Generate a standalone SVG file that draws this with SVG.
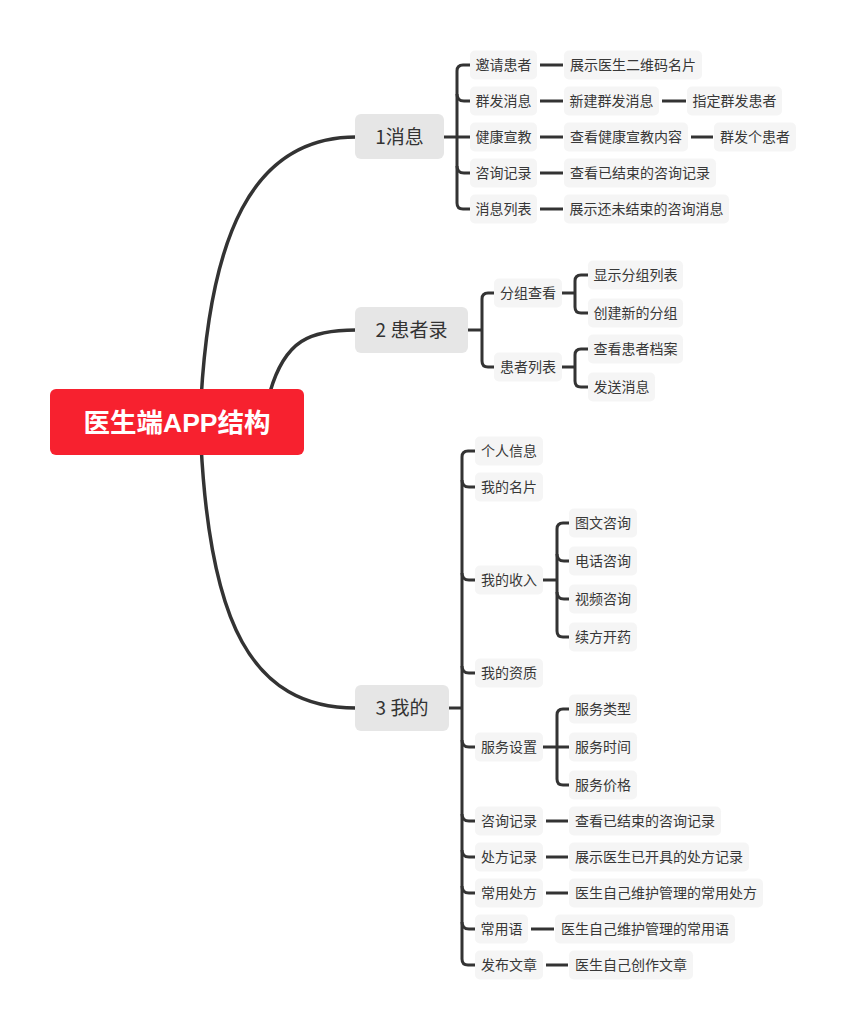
<svg xmlns="http://www.w3.org/2000/svg" width="846" height="1030" viewBox="0 0 846 1030">
<style>
.bg{fill:#ffffff}
.ln{fill:none;stroke:#333333;stroke-width:3;stroke-linecap:butt}
.main{fill:none;stroke:#333333;stroke-width:3.5}
.rootbox{fill:#f7212f}
.roott{font-family:"Liberation Sans","Noto Sans CJK SC",sans-serif;font-size:26.5px;font-weight:bold;fill:#ffffff;text-anchor:middle}
.mbox{fill:#e6e6e6}
.mt{font-family:"Noto Sans CJK SC",sans-serif;font-size:19px;fill:#333333;text-anchor:middle}
.box{fill:#f5f5f5}
.t{font-family:"Noto Sans CJK SC",sans-serif;font-size:14px;fill:#383838;text-anchor:middle}
</style>
<rect class="bg" x="0" y="0" width="846" height="1030"/>
<g id="connectors">
<path class="main" d="M 201 400 C 210 240, 250 137, 356 137"/>
<path class="main" d="M 270 392 C 285 340, 310 330, 356 330"/>
<path class="main" d="M 201 444 C 210 620, 250 708, 356 708"/>
<path class="ln" d="M 444 137 H 457"/>
<path class="ln" d="M 470 65 H 463 Q 457 65 457 71 V 203 Q 457 209 463 209 H 470"/>
<path class="ln" d="M 457 94 Q 457 101 464 101 H 470"/>
<path class="ln" d="M 457 137 H 470"/>
<path class="ln" d="M 457 166 Q 457 173 464 173 H 470"/>
<path class="ln" d="M 540 65 H 563"/>
<path class="ln" d="M 540 101 H 563"/>
<path class="ln" d="M 662 101 H 686"/>
<path class="ln" d="M 540 137 H 563"/>
<path class="ln" d="M 691 137 H 713"/>
<path class="ln" d="M 540 173 H 563"/>
<path class="ln" d="M 540 209 H 563"/>
<path class="ln" d="M 468 330 H 482"/>
<path class="ln" d="M 494 293 H 488 Q 482 293 482 299 V 361 Q 482 367 488 367 H 494"/>
<path class="ln" d="M 562 293 H 575"/>
<path class="ln" d="M 588 275 H 581 Q 575 275 575 281 V 307 Q 575 313 581 313 H 588"/>
<path class="ln" d="M 562 367 H 575"/>
<path class="ln" d="M 588 349 H 581 Q 575 349 575 355 V 381 Q 575 387 581 387 H 588"/>
<path class="ln" d="M 449 708 H 462"/>
<path class="ln" d="M 475 451 H 468 Q 462 451 462 457 V 959 Q 462 965 468 965 H 475"/>
<path class="ln" d="M 462 480 Q 462 487 469 487 H 475"/>
<path class="ln" d="M 462 573 Q 462 580 469 580 H 475"/>
<path class="ln" d="M 462 666 Q 462 673 469 673 H 475"/>
<path class="ln" d="M 462 740 Q 462 747 469 747 H 475"/>
<path class="ln" d="M 462 814 Q 462 821 469 821 H 475"/>
<path class="ln" d="M 462 850 Q 462 857 469 857 H 475"/>
<path class="ln" d="M 462 886 Q 462 893 469 893 H 475"/>
<path class="ln" d="M 462 922 Q 462 929 469 929 H 475"/>
<path class="ln" d="M 543 580 H 557"/>
<path class="ln" d="M 569 523 H 563 Q 557 523 557 529 V 631 Q 557 637 563 637 H 569"/>
<path class="ln" d="M 557 554 Q 557 561 564 561 H 569"/>
<path class="ln" d="M 557 592 Q 557 599 564 599 H 569"/>
<path class="ln" d="M 543 747 H 557"/>
<path class="ln" d="M 569 709 H 563 Q 557 709 557 715 V 779 Q 557 785 563 785 H 569"/>
<path class="ln" d="M 557 747 H 569"/>
<path class="ln" d="M 546 821 H 568"/>
<path class="ln" d="M 546 857 H 568"/>
<path class="ln" d="M 546 893 H 568"/>
<path class="ln" d="M 531 929 H 554"/>
<path class="ln" d="M 546 965 H 568"/>
</g>
<g id="root">
<rect class="rootbox" x="50" y="389" width="254" height="66" rx="6"/>
<text class="roott" x="177" y="432">医生端APP结构</text>
</g>
<g id="n1">
<rect class="mbox" x="355" y="114" width="89" height="45" rx="6"/>
<text class="mt" x="399.5" y="144">1消息</text>
</g>
<g id="n1-1"><rect class="box" x="470" y="50.5" width="67" height="29" rx="5"/><text class="t" x="503.5" y="70">邀请患者</text></g>
<g id="n1-2"><rect class="box" x="470" y="86.5" width="67" height="29" rx="5"/><text class="t" x="503.5" y="106">群发消息</text></g>
<g id="n1-3"><rect class="box" x="470" y="122.5" width="67" height="29" rx="5"/><text class="t" x="503.5" y="142">健康宣教</text></g>
<g id="n1-4"><rect class="box" x="470" y="158.5" width="67" height="29" rx="5"/><text class="t" x="503.5" y="178">咨询记录</text></g>
<g id="n1-5"><rect class="box" x="470" y="194.5" width="67" height="29" rx="5"/><text class="t" x="503.5" y="214">消息列表</text></g>
<g id="n1-1-1"><rect class="box" x="564" y="50.5" width="138" height="29" rx="5"/><text class="t" x="633" y="70">展示医生二维码名片</text></g>
<g id="n1-2-1"><rect class="box" x="564" y="86.5" width="95" height="29" rx="5"/><text class="t" x="611.5" y="106">新建群发消息</text></g>
<g id="n1-2-1-1"><rect class="box" x="687" y="86.5" width="95" height="29" rx="5"/><text class="t" x="734.5" y="106">指定群发患者</text></g>
<g id="n1-3-1"><rect class="box" x="564" y="122.5" width="124" height="29" rx="5"/><text class="t" x="626" y="142">查看健康宣教内容</text></g>
<g id="n1-3-1-1"><rect class="box" x="714" y="122.5" width="82" height="29" rx="5"/><text class="t" x="755" y="142">群发个患者</text></g>
<g id="n1-4-1"><rect class="box" x="564" y="158.5" width="152" height="29" rx="5"/><text class="t" x="640" y="178">查看已结束的咨询记录</text></g>
<g id="n1-5-1"><rect class="box" x="564" y="194.5" width="165" height="29" rx="5"/><text class="t" x="646.5" y="214">展示还未结束的咨询消息</text></g>
<g id="n2">
<rect class="mbox" x="355" y="307" width="113" height="46" rx="6"/>
<text class="mt" x="411.5" y="337">2 患者录</text>
</g>
<g id="n2-1"><rect class="box" x="494" y="278.5" width="68" height="29" rx="5"/><text class="t" x="528" y="298">分组查看</text></g>
<g id="n2-2"><rect class="box" x="494" y="352.5" width="68" height="29" rx="5"/><text class="t" x="528" y="372">患者列表</text></g>
<g id="n2-1-1"><rect class="box" x="588" y="260.5" width="95" height="29" rx="5"/><text class="t" x="635.5" y="280">显示分组列表</text></g>
<g id="n2-1-2"><rect class="box" x="588" y="298.5" width="95" height="29" rx="5"/><text class="t" x="635.5" y="318">创建新的分组</text></g>
<g id="n2-2-1"><rect class="box" x="588" y="334.5" width="95" height="29" rx="5"/><text class="t" x="635.5" y="354">查看患者档案</text></g>
<g id="n2-2-2"><rect class="box" x="588" y="372.5" width="67" height="29" rx="5"/><text class="t" x="621.5" y="392">发送消息</text></g>
<g id="n3">
<rect class="mbox" x="355" y="685" width="94" height="46" rx="6"/>
<text class="mt" x="402" y="715">3 我的</text>
</g>
<g id="n3-1"><rect class="box" x="475" y="436.5" width="68" height="29" rx="5"/><text class="t" x="509" y="456">个人信息</text></g>
<g id="n3-2"><rect class="box" x="475" y="472.5" width="68" height="29" rx="5"/><text class="t" x="509" y="492">我的名片</text></g>
<g id="n3-3"><rect class="box" x="475" y="565.5" width="68" height="29" rx="5"/><text class="t" x="509" y="585">我的收入</text></g>
<g id="n3-3-1"><rect class="box" x="569" y="508.5" width="68" height="29" rx="5"/><text class="t" x="603" y="528">图文咨询</text></g>
<g id="n3-3-2"><rect class="box" x="569" y="546.5" width="68" height="29" rx="5"/><text class="t" x="603" y="566">电话咨询</text></g>
<g id="n3-3-3"><rect class="box" x="569" y="584.5" width="68" height="29" rx="5"/><text class="t" x="603" y="604">视频咨询</text></g>
<g id="n3-3-4"><rect class="box" x="569" y="622.5" width="68" height="29" rx="5"/><text class="t" x="603" y="642">续方开药</text></g>
<g id="n3-4"><rect class="box" x="475" y="658.5" width="68" height="29" rx="5"/><text class="t" x="509" y="678">我的资质</text></g>
<g id="n3-5"><rect class="box" x="475" y="732.5" width="68" height="29" rx="5"/><text class="t" x="509" y="752">服务设置</text></g>
<g id="n3-5-1"><rect class="box" x="569" y="694.5" width="68" height="29" rx="5"/><text class="t" x="603" y="714">服务类型</text></g>
<g id="n3-5-2"><rect class="box" x="569" y="732.5" width="68" height="29" rx="5"/><text class="t" x="603" y="752">服务时间</text></g>
<g id="n3-5-3"><rect class="box" x="569" y="770.5" width="68" height="29" rx="5"/><text class="t" x="603" y="790">服务价格</text></g>
<g id="n3-6"><rect class="box" x="475" y="806.5" width="68" height="29" rx="5"/><text class="t" x="509" y="826">咨询记录</text></g>
<g id="n3-6-1"><rect class="box" x="569" y="806.5" width="152" height="29" rx="5"/><text class="t" x="645" y="826">查看已结束的咨询记录</text></g>
<g id="n3-7"><rect class="box" x="475" y="842.5" width="68" height="29" rx="5"/><text class="t" x="509" y="862">处方记录</text></g>
<g id="n3-7-1"><rect class="box" x="569" y="842.5" width="180" height="29" rx="5"/><text class="t" x="659" y="862">展示医生已开具的处方记录</text></g>
<g id="n3-8"><rect class="box" x="475" y="878.5" width="68" height="29" rx="5"/><text class="t" x="509" y="898">常用处方</text></g>
<g id="n3-8-1"><rect class="box" x="569" y="878.5" width="194" height="29" rx="5"/><text class="t" x="666" y="898">医生自己维护管理的常用处方</text></g>
<g id="n3-9"><rect class="box" x="475" y="914.5" width="53" height="29" rx="5"/><text class="t" x="501.5" y="934">常用语</text></g>
<g id="n3-9-1"><rect class="box" x="555" y="914.5" width="180" height="29" rx="5"/><text class="t" x="645" y="934">医生自己维护管理的常用语</text></g>
<g id="n3-10"><rect class="box" x="475" y="950.5" width="68" height="29" rx="5"/><text class="t" x="509" y="970">发布文章</text></g>
<g id="n3-10-1"><rect class="box" x="569" y="950.5" width="124" height="29" rx="5"/><text class="t" x="631" y="970">医生自己创作文章</text></g>
</svg>
